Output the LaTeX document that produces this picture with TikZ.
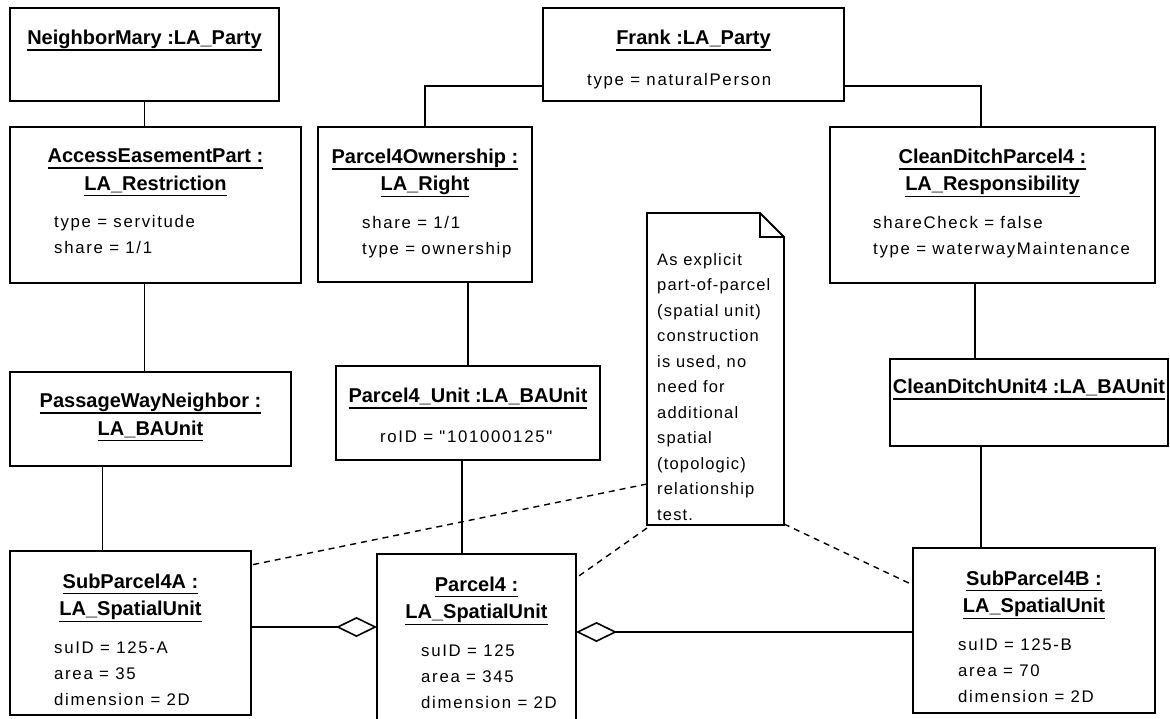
\documentclass[tikz,border=0pt]{standalone}
\usepackage{fontspec}
\setmainfont{Liberation Sans}
\newfontfamily\attrfont[LetterSpace=10]{Liberation Sans}
\usetikzlibrary{arrows.meta, positioning}

\newcommand\sublinha[1]{\sbox0{#1}\rlap{\usebox0}\rule[-6.2pt]{\wd0}{1.4pt}}

\begin{document}
\begin{tikzpicture}[x=1pt, y=-1pt,
  obj/.style={draw, line width=1.8pt, inner sep=0pt, outer sep=0pt, anchor=north west},
  ttl/.style={font=\fontsize{20}{27.5}\selectfont\bfseries, align=center, inner sep=0pt},
  atr/.style={font=\attrfont\fontsize{16.8}{26}\selectfont, align=left, inner sep=0pt, anchor=north west},
  lig/.style={line width=1.6pt},
  agg/.style={line width=1.6pt, {Diamond[open, length=41pt, width=20pt]}-},
  dep/.style={line width=1.4pt, dash pattern=on 6pt off 5pt}]
  \useasboundingbox (0,0) rectangle (1170,718);
  % partes
  \node[obj, minimum width=269pt, minimum height=93pt] (mary) at (10,8) {};
  \node[ttl, below=21.7pt of mary.north] (maryT) {\sublinha{NeighborMary :LA\_Party}};
  \node[obj, minimum width=301pt, minimum height=93pt] (frank) at (543,8) {};
  \node[ttl, below=21.7pt of frank.north] (frankT) {\sublinha{Frank :LA\_Party}};
  \node[atr, xshift=44pt, yshift=-22pt] (frankA) at (frankT.south -| frank.west) {type = naturalPerson};
  % direitos, restricoes e responsabilidades
  \node[obj, minimum width=291pt, minimum height=156pt] (acc) at (10,127) {};
  \node[ttl, below=21.7pt of acc.north] (accT) {\sublinha{AccessEasementPart :}\\\sublinha{LA\_Restriction}};
  \node[atr, xshift=44pt, yshift=-19pt] (accA) at (accT.south -| acc.west) {type = servitude\\share = 1/1};
  \node[obj, minimum width=214pt, minimum height=155pt] (own) at (318,127) {};
  \node[ttl, below=21.7pt of own.north] (ownT) {\sublinha{Parcel4Ownership :}\\\sublinha{LA\_Right}};
  \node[atr, xshift=44pt, yshift=-19pt] (ownA) at (ownT.south -| own.west) {share = 1/1\\type = ownership};
  \node[obj, minimum width=325pt, minimum height=156pt] (cdp) at (830,127) {};
  \node[ttl, below=21.7pt of cdp.north] (cdpT) {\sublinha{CleanDitchParcel4 :}\\\sublinha{LA\_Responsibility}};
  \node[atr, xshift=43pt, yshift=-19pt] (cdpA) at (cdpT.south -| cdp.west) {shareCheck = false\\type = waterwayMaintenance};
  % unidades administrativas
  \node[obj, minimum width=281pt, minimum height=94pt] (pwn) at (10,372) {};
  \node[ttl, below=21pt of pwn.north] (pwnT) {\sublinha{PassageWayNeighbor :}\\\sublinha{LA\_BAUnit}};
  \node[obj, minimum width=264pt, minimum height=94pt] (p4u) at (336,366) {};
  \node[ttl, below=21.7pt of p4u.north] (p4uT) {\sublinha{Parcel4\_Unit :LA\_BAUnit}};
  \node[atr, xshift=44pt, yshift=-22pt] (p4uA) at (p4uT.south -| p4u.west) {roID = "101000125"};
  \node[obj, minimum width=278pt, minimum height=87pt] (cdu) at (890,359) {};
  \node[ttl, below=20pt of cdu.north] (cduT) {\sublinha{CleanDitchUnit4 :LA\_BAUnit}};
  % unidades espaciais
  \node[obj, minimum width=241pt, minimum height=164pt] (sp4a) at (10,551) {};
  \node[ttl, below=22.5pt of sp4a.north] (sp4aT) {\sublinha{SubParcel4A :}\\\sublinha{LA\_SpatialUnit}};
  \node[atr, xshift=44pt, yshift=-19pt] (sp4aA) at (sp4aT.south -| sp4a.west) {suID = 125-A\\area = 35\\dimension = 2D};
  \node[obj, minimum width=199pt, minimum height=170pt] (p4) at (377,554) {};
  \node[ttl, below=22.5pt of p4.north] (p4T) {\sublinha{Parcel4 :}\\\sublinha{LA\_SpatialUnit}};
  \node[atr, xshift=44pt, yshift=-19pt] (p4A) at (p4T.south -| p4.west) {suID = 125\\area = 345\\dimension = 2D};
  \node[obj, minimum width=242pt, minimum height=165pt] (sp4b) at (913,548) {};
  \node[ttl, below=22.5pt of sp4b.north] (sp4bT) {\sublinha{SubParcel4B :}\\\sublinha{LA\_SpatialUnit}};
  \node[atr, xshift=45pt, yshift=-19pt] (sp4bA) at (sp4bT.south -| sp4b.west) {suID = 125-B\\area = 70\\dimension = 2D};
  % nota com canto dobrado
  \node[inner sep=0pt, outer sep=0pt, minimum width=137pt, minimum height=312pt, anchor=north west] (note) at (647,213) {};
  \draw[line width=1.8pt, fill=white] (note.north west) -- ([xshift=-24pt]note.north east)
    -- ([yshift=-24pt]note.north east) -- (note.south east) -- (note.south west) -- cycle;
  \draw[line width=1.6pt] ([xshift=-24pt]note.north east) |- ([yshift=-24pt]note.north east);
  \node[atr, xshift=10pt, yshift=-40pt, font=\attrfont\fontsize{16.5}{25.5}\selectfont\addfontfeature{LetterSpace=7}] (noteT) at (note.north west) {As explicit\\part-of-parcel\\(spatial unit)\\construction\\is used, no\\need for\\additional\\spatial\\(topologic)\\relationship\\test.};
  % ligacoes
  \draw[lig] (mary.south) -- (mary.south |- acc.north);
  \draw[lig] (acc.south -| mary.south) -- (pwn.north -| mary.south);
  \draw[lig] ([xshift=-48pt]pwn.south) -- ([xshift=-48pt]pwn.south |- sp4a.north);
  \draw[lig] ([yshift=-31.5pt]frank.west) -| (own.north);
  \draw[lig] ([yshift=-31.5pt]frank.east) -| ([xshift=-11.5pt]cdp.north);
  \draw[lig] (p4u.north |- own.south) -- (p4u.north);
  \draw[lig] ([xshift=-6pt]p4u.south) -- ([xshift=-6pt]p4u.south |- p4.north);
  \draw[lig] ([xshift=-17.5pt]cdp.south) -- ([xshift=-17.5pt]cdp.south |- cdu.north);
  \draw[lig] ([xshift=-48pt]cdu.south) -- ([xshift=-48pt]cdu.south |- sp4b.north);
  % agregacoes
  \draw[agg] ([yshift=12pt]p4.west) -- ([yshift=12pt]p4.west -| sp4a.east);
  \draw[agg] ([yshift=7pt]p4.east) -- ([yshift=7pt]p4.east -| sp4b.west);
  % ligacoes da nota
  \draw[dep] ([yshift=-115pt]note.west) -- ([yshift=68pt]sp4a.east);
  \draw[dep] ([yshift=-3pt]note.south west) -- ([yshift=-24pt]p4.north east);
  \draw[dep] ([yshift=1pt]note.south east) -- ([yshift=-37pt]sp4b.north west);
\end{tikzpicture}
\end{document}
